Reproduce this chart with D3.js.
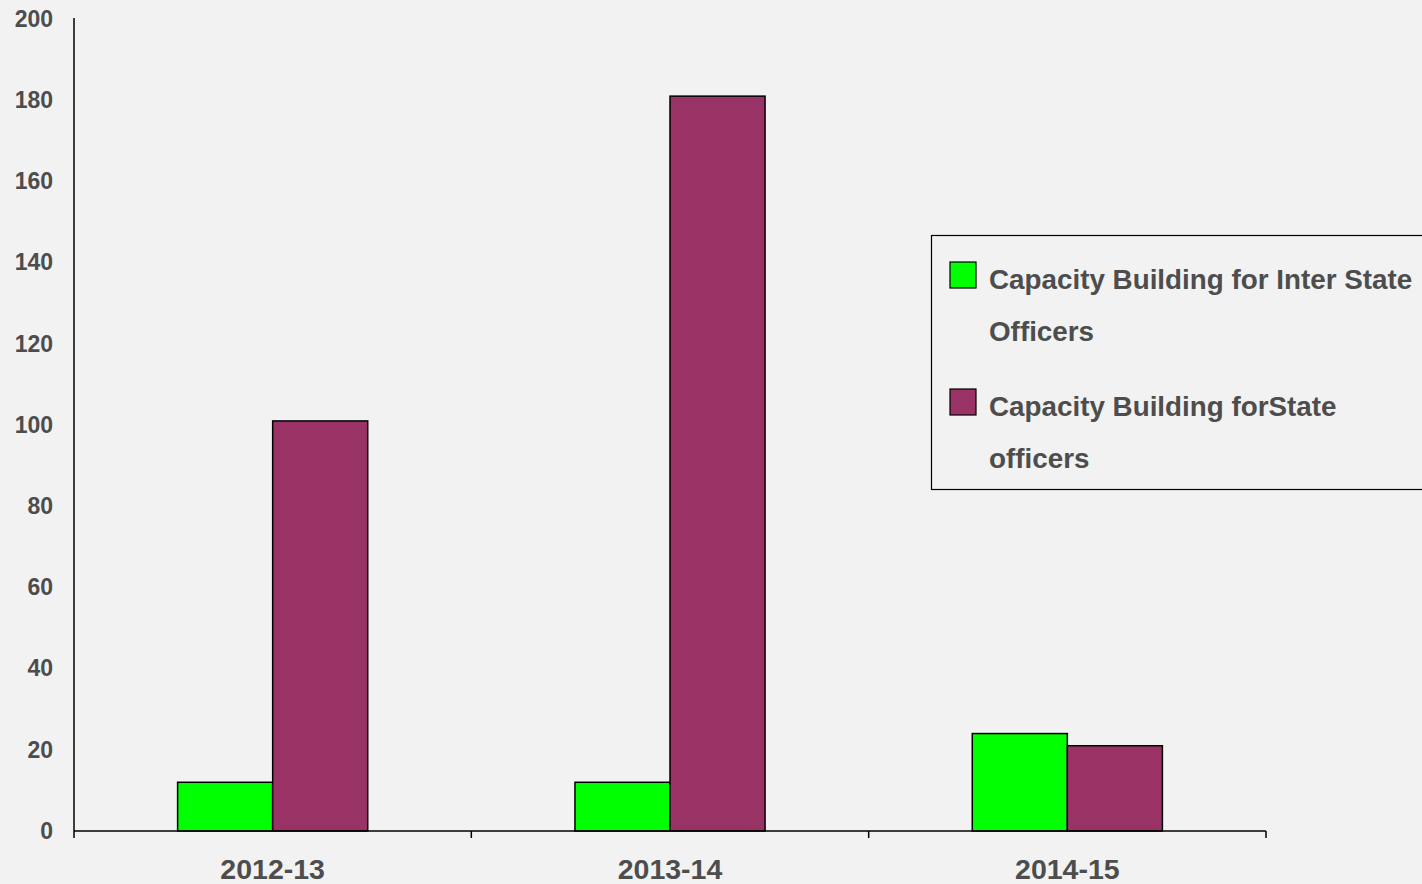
<!DOCTYPE html>
<html lang="en">
<head>
<meta charset="utf-8">
<title>Capacity Building</title>
<script src="https://cdnjs.cloudflare.com/ajax/libs/d3/7.8.5/d3.min.js"></script>
<style>
  body { margin: 0; background: #f2f2f2; }
  svg { display: block; }
  text { font-family: "Liberation Sans", Arial, sans-serif; font-weight: bold; fill: #4d4d4d; }
</style>
</head>
<body>
<svg width="1422" height="884"></svg>
<script>
// data
var years = ["2012-13", "2013-14", "2014-15"];
var seriesNames = ["Capacity Building for Inter State Officers", "Capacity Building forState officers"];
var interState = [12, 12, 24];
var stateOfficers = [101, 181, 21];
var colors = ["#00ff00", "#993366"];
var yTicks = [0, 20, 40, 60, 80, 100, 120, 140, 160, 180, 200];

var svg = d3.select("svg");
var plotLeft = 74, plotRight = 1266, plotTop = 19, plotBottom = 831;

var x0 = d3.scaleBand().domain(years).range([plotLeft, plotRight]).paddingInner(0).paddingOuter(0);
var x1 = d3.scaleBand().domain([0, 1]).range([0, x0.bandwidth()]).paddingInner(0).paddingOuter(1.09);
var y = d3.scaleLinear().domain([0, 200]).range([plotBottom, plotTop]);

var rows = years.map(function(yr, i) { return { year: yr, vals: [interState[i], stateOfficers[i]] }; });

// bars
var groups = svg.selectAll(".grp").data(rows).enter().append("g")
    .attr("class", "grp")
    .attr("transform", function(d) { return "translate(" + x0(d.year) + ",0)"; });
groups.selectAll("rect").data(function(d) { return d.vals; }).enter().append("rect")
    .attr("x", function(d, i) { return x1(i); })
    .attr("y", function(d) { return y(d); })
    .attr("width", x1.bandwidth())
    .attr("height", function(d) { return plotBottom - y(d); })
    .attr("fill", function(d, i) { return colors[i]; })
    .attr("stroke", "#000")
    .attr("stroke-width", 1.5);

// y axis
var yAxis = svg.append("g").attr("transform", "translate(" + plotLeft + ",0)")
    .call(d3.axisLeft(y).tickValues(yTicks).tickSize(0).tickPadding(21));
yAxis.select(".domain").attr("d", "M0," + (plotTop - 1) + "V" + (plotBottom + 7)).attr("stroke", "#000").attr("stroke-width", 1.5);
yAxis.selectAll("text").style("font-size", "23px").attr("fill", "#4d4d4d");

// x axis
var xAxis = svg.append("g").attr("transform", "translate(0," + plotBottom + ")")
    .call(d3.axisBottom(x0).tickSize(0).tickPadding(28));
xAxis.select(".domain").attr("d", "M" + plotLeft + ",0H" + plotRight).attr("stroke", "#000").attr("stroke-width", 1.5);
xAxis.selectAll("text").style("font-size", "28.5px").attr("fill", "#4d4d4d");
xAxis.selectAll(".sep").data(years).enter().append("line")
    .attr("class", "sep")
    .attr("x1", function(d) { return x0(d) + x0.bandwidth(); })
    .attr("x2", function(d) { return x0(d) + x0.bandwidth(); })
    .attr("y1", 0).attr("y2", 7)
    .attr("stroke", "#000").attr("stroke-width", 1.5);

// legend
var lg = svg.append("g");
lg.append("rect").attr("x", 931.5).attr("y", 235.5).attr("width", 500).attr("height", 254)
    .attr("fill", "#f2f2f2").attr("stroke", "#000").attr("stroke-width", 1.2);
var legendLines = [["Capacity Building for Inter State", "Officers"], ["Capacity Building forState", "officers"]];
legendLines.forEach(function(lines, i) {
  var oy = 262 + i * 127;
  lg.append("rect").attr("x", 950).attr("y", oy).attr("width", 26).attr("height", 26)
      .attr("fill", colors[i]).attr("stroke", "#000").attr("stroke-width", 1.2);
  lines.forEach(function(t, j) {
    lg.append("text").attr("x", 989).attr("y", oy + 27 + j * 52)
        .style("font-size", "27.8px").text(t);
  });
});
</script>
</body>
</html>
